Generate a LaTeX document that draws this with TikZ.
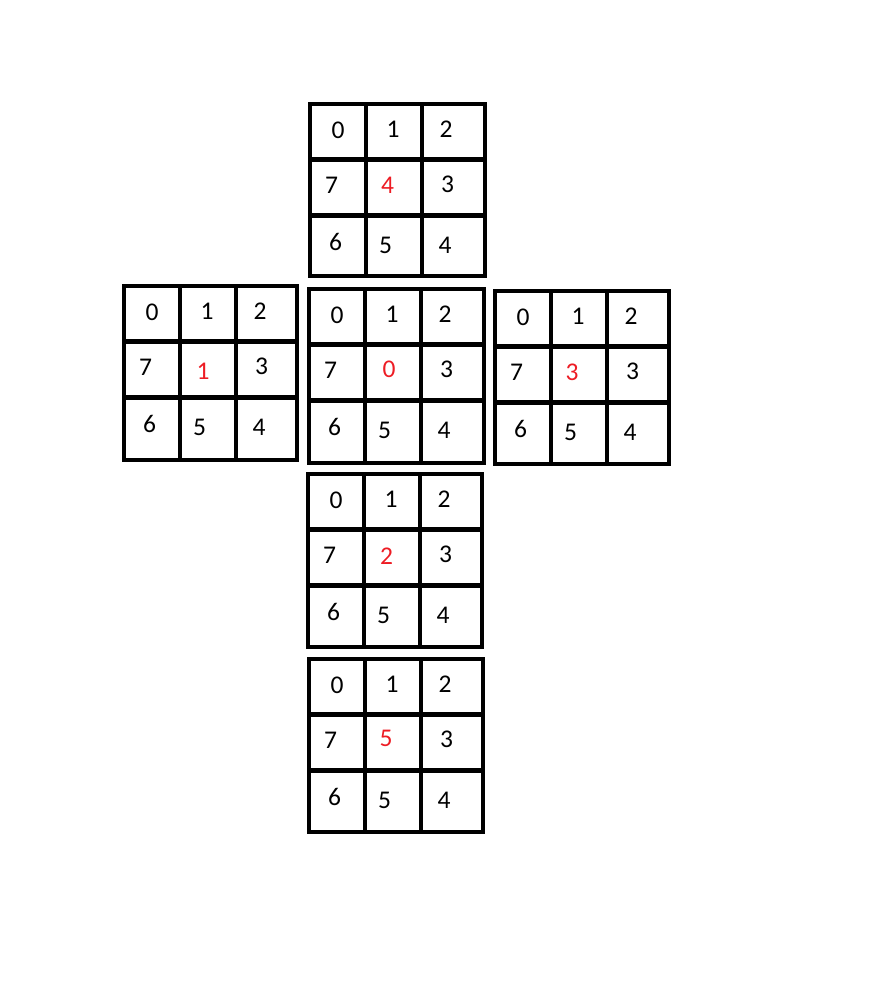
\documentclass[tikz,border=0pt]{standalone}
\usepackage{fontspec}
\setmainfont{Carlito}
\definecolor{facered}{RGB}{237,28,36}
\tikzset{
  gridline/.style={line width=4.5pt},
  digit/.style={inner sep=0pt,font=\fontsize{25.5}{30}\selectfont},
  middigit/.style={digit,text=facered}
}
\begin{document}
\begin{tikzpicture}[x=1pt,y=-1pt]
        \useasboundingbox (0,0) rectangle (870,1004);
        \foreach \f/\x/\y/\w/\h/\rx/\ry in {4/310/104/175/172/77.5/81,1/124/286/173/174/79/85,0/309/289/175/174/80/80.5,3/495/291/174/173/77/81.5,2/308/474/174/173/78.5/82.5,5/309/659/174/173/77/79.5}{
            \draw [gridline] (\x,\y) rectangle ++(\w,\h);
            \draw [gridline] (\x+56,\y) -- ++(0,\h);
            \draw [gridline] (\x+112,\y) -- ++(0,\h);
            \draw [gridline] (\x,\y+55.5) -- ++(\w,0);
            \draw [gridline] (\x,\y+111.5) -- ++(\w,0);
            \foreach \k/\dx/\dy in {0/28/26.5,1/83/25.5,2/136/25.5,7/21.5/81,3/137.5/80.5,6/25.5/138,5/75.5/141,4/135/141}
                \node(f\f-\k) at (\x+\dx,\y+\dy) [digit] {\k};
            \node(f\f-c) at (\x+\rx,\y+\ry) [middigit] {\f};
        }
    \end{tikzpicture}
\end{document}
